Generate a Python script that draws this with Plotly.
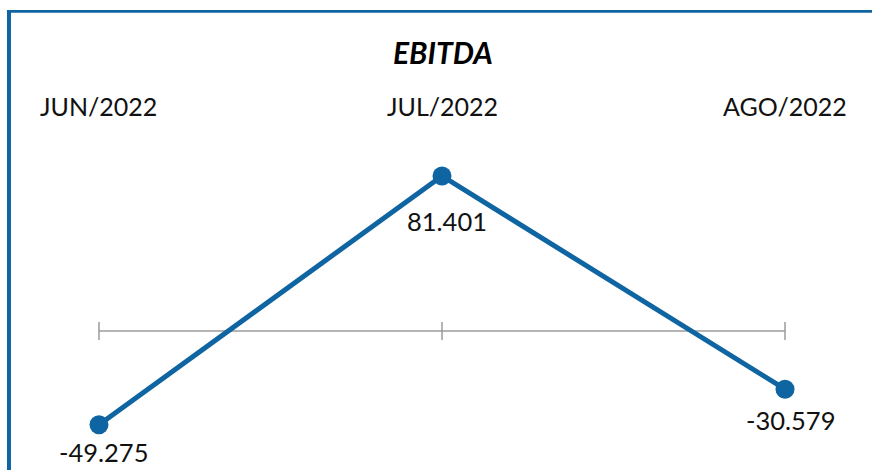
import plotly.graph_objects as go

categories = ["JUN/2022", "JUL/2022", "AGO/2022"]
values = [-49.275, 81.401, -30.579]
value_labels = ["-49.275", "81.401", "-30.579"]
title_text = "EBITDA"

BLUE = "#0f64a2"
GRAY = "#9b9b9b"
FONT = "Lato, 'DejaVu Sans', sans-serif"

xs = list(range(len(categories)))

fig = go.Figure()

# zero line
fig.add_trace(go.Scatter(x=[xs[0], xs[-1]], y=[0, 0], mode="lines",
                         line=dict(color=GRAY, width=1.5), hoverinfo="skip", showlegend=False))

# main line
fig.add_trace(go.Scatter(x=xs, y=values, mode="lines+markers",
                         line=dict(color=BLUE, width=5),
                         marker=dict(color=BLUE, size=19),
                         hoverinfo="skip", showlegend=False))

shapes = []
for x in xs:
    shapes.append(dict(type="line", xref="x", yref="y", x0=x, x1=x, y0=-4.7, y1=4.7,
                       line=dict(color=GRAY, width=1.5), layer="below"))
# frame (left and top edges only visible)
shapes.append(dict(type="line", xref="paper", yref="paper", x0=0.0103, x1=0.0103,
                   y0=0, y1=0.9766, line=dict(color=BLUE, width=4), layer="below"))
shapes.append(dict(type="line", xref="paper", yref="paper", x0=0.008, x1=1,
                   y0=0.9758, y1=0.9758, line=dict(color=BLUE, width=2.6), layer="below"))

annotations = []
label_shift = [-27, -45, -31]
for x, v, t, s in zip(xs, values, value_labels, label_shift):
    annotations.append(dict(x=x, y=v, text=t, showarrow=False, xshift=5, yshift=s,
                            xanchor="center", yanchor="middle",
                            font=dict(family=FONT, size=25.5, color="#111111")))
for x, c in zip(xs, categories):
    annotations.append(dict(x=x, y=0.7755, yref="paper", text=c, showarrow=False,
                            xanchor="center", yanchor="middle",
                            font=dict(family=FONT, size=25, color="#111111")))
annotations.append(dict(x=0.5085, xref="paper", y=0.889, yref="paper",
                        text="<b><i>" + title_text + "</i></b>", showarrow=False,
                        xanchor="center", yanchor="middle",
                        font=dict(family=FONT, size=30, color="#000000")))

fig.update_layout(
    width=872, height=470,
    margin=dict(l=0, r=0, t=0, b=0),
    paper_bgcolor="white", plot_bgcolor="white",
    xaxis=dict(range=[-0.2886, 2.2536], visible=False, fixedrange=True),
    yaxis=dict(range=[-73.0, 173.8], visible=False, fixedrange=True),
    shapes=shapes, annotations=annotations,
)

fig.write_html("out.html", config={"displayModeBar": False},
               post_script="document.body.style.margin='0';document.body.style.overflow='hidden';")
